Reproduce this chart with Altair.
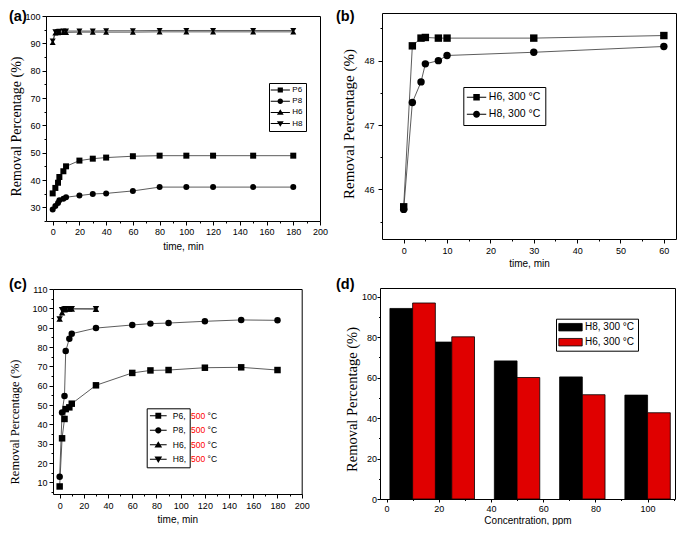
import json
import altair as alt
import pandas as pd

# ---------------- data ----------------
panel_labels = ["(a)", "(b)", "(c)", "(d)"]

a_names = ["P6", "P8", "H6", "H8"]
a_time = [0, 2, 4, 5, 8, 10, 20, 30, 40, 60, 80, 100, 120, 150, 180]
a_p6 = [35.1, 37.1, 39.0, 41.1, 43.2, 45.0, 47.1, 47.8, 48.2, 48.7, 48.9, 48.9, 48.9, 48.9, 48.9]
a_p8 = [29.2, 30.5, 31.6, 32.6, 33.1, 33.7, 34.3, 34.9, 35.1, 36.0, 37.4, 37.4, 37.4, 37.4, 37.4]
a_h6 = [90.3, 93.8, 93.9, 94.0, 94.0, 94.0, 94.1, 94.1, 94.1, 94.1, 94.2, 94.2, 94.2, 94.2, 94.2]
a_h8 = [90.8, 94.2, 94.3, 94.4, 94.5, 94.5, 94.5, 94.5, 94.6, 94.6, 94.7, 94.7, 94.7, 94.7, 94.7]

b_names = ["H6, 300 °C", "H8, 300 °C"]
b_time = [0, 2, 4, 5, 8, 10, 30, 60]
b_h6 = [45.73, 48.23, 48.35, 48.36, 48.35, 48.35, 48.35, 48.39]
b_h8 = [45.69, 47.35, 47.67, 47.95, 48.00, 48.08, 48.13, 48.22]

c_names = ["P6, 500 °C", "P8, 500 °C", "H6, 500 °C", "H8, 500 °C"]
c_time_p = [0, 2, 4, 5, 8, 10, 30, 60, 75, 90, 120, 150, 180]
c_p6 = [7.9, 32.8, 42.8, 47.9, 48.8, 50.7, 60.2, 66.6, 67.9, 68.1, 69.3, 69.5, 68.1]
c_p8 = [12.9, 46.2, 54.7, 77.9, 84.3, 86.9, 89.8, 91.4, 92.1, 92.4, 93.3, 94.0, 93.8]
c_time_h = [0, 2, 4, 5, 8, 10, 30]
c_h6 = [94.5, 97.8, 99.3, 99.6, 99.7, 99.7, 99.6]
c_h8 = [94.5, 99.2, 99.6, 99.7, 99.8, 99.8, 99.8]

d_groups = ["H8, 300 °C", "H6, 300 °C"]
d_conc = [10, 25, 50, 75, 100]
d_h8 = [94.1, 77.5, 68.2, 60.3, 51.3]
d_h6 = [96.8, 80.1, 60.0, 51.5, 42.6]

# tick values
a_xmajor, a_xminor = list(range(0, 201, 20)), list(range(0, 201, 10))
a_ymajor, a_yminor = list(range(30, 101, 10)), list(range(25, 101, 5))
b_xmajor, b_xminor = list(range(0, 61, 10)), list(range(0, 61, 5))
b_ymajor, b_yminor = [46, 47, 48], [45.5, 46, 46.5, 47, 47.5, 48, 48.5]
c_xmajor, c_xminor = list(range(0, 201, 20)), list(range(0, 201, 10))
c_ymajor, c_yminor = list(range(10, 111, 10)), list(range(5, 111, 5))
d_xmajor, d_xminor = list(range(0, 101, 20)), list(range(0, 111, 10))
d_ymajor, d_yminor = list(range(0, 101, 20)), list(range(0, 101, 10))

# ---------------- canvas & styles ----------------
W, H = 669, 517          # one drawing canvas; page coordinates = canvas + 8
M = 8
SANS = "Liberation Sans"
SERIF = "Liberation Serif"
LINE_COLOR = "#4a4a4a"
RED = "#e00000"
RED_TEXT = "#ff0000"

# plot rectangles in page pixels: left, right, top, bottom
RECT_A = (46, 320, 16, 221)
RECT_B = (382, 676, 13, 239)
RECT_C = (53, 301.7, 289, 494)
RECT_D = (380, 675, 288, 499)

MARKER_PATHS = {
    "square": "M-0.65,-0.65H0.65V0.65H-0.65Z",
    "circle": "M-0.7,0A0.7,0.7,0,1,1,0.7,0A0.7,0.7,0,1,1,-0.7,0Z",
    "triangle-up": "M0,-0.8L0.85,0.6H-0.85Z",
    "triangle-down": "M0,0.8L-0.85,-0.6H0.85Z",
}


def legend_paths(shapes, half, thick):
    bar = f"M{-half},{-thick}H{half}V{thick}H{-half}Z"
    return [bar + MARKER_PATHS[s] for s in shapes]


def frame(pairs):
    rows = []
    for name, times, vals in pairs:
        for t, v in zip(times, vals):
            rows.append({"time": t, "value": v, "series": name})
    return pd.DataFrame(rows)


def geom(rect):
    l, r, t, b = [v - M for v in rect]
    return dict(l=l, r=r, t=t, b=b,
                off_bottom=b - H, off_left=-l, off_top=-t, off_right=r - W)


def scales(rect, xdom, ydom):
    g = geom(rect)
    xs = alt.Scale(domain=xdom, range=[g["l"], g["r"]], nice=False, zero=False)
    ys = alt.Scale(domain=ydom, range=[g["b"], g["t"]], nice=False, zero=False)
    return xs, ys


def major_axis(values, orient, offset, title, title_font, title_size, tick=4, label_pad=2,
               title_pad=4, title_x=None, title_y=None):
    kw = dict(values=values, orient=orient, offset=offset, title=title, format="d",
              tickSize=tick, tickColor="black", tickWidth=1, domainColor="black",
              domainWidth=1, labelPadding=label_pad, labelFont=SANS, labelFontSize=9,
              labelColor="black", labelOverlap=False, labelFlush=False,
              titlePadding=title_pad, titleFont=title_font, titleFontSize=title_size,
              titleFontWeight="normal", titleColor="black", grid=False)
    if title_x is not None:
        kw["titleX"] = title_x
    if title_y is not None:
        kw["titleY"] = title_y
    return alt.Axis(**kw)


def minor_axis(values, orient, offset, tick=2):
    return alt.Axis(values=values, orient=orient, offset=offset, title=None, labels=False,
                    domain=False, tickSize=tick, tickColor="black", tickWidth=1, grid=False)


def edge_axis(orient, offset):
    return alt.Axis(orient=orient, offset=offset, title=None, labels=False, ticks=False,
                    domain=True, domainColor="black", domainWidth=1, grid=False)


def edges_layer(df, xf, yf, xs, ys, rect):
    g = geom(rect)
    return alt.Chart(df).transform_filter("false").mark_point().encode(
        x=alt.X(xf, scale=xs, axis=edge_axis("top", g["off_top"])),
        y=alt.Y(yf, scale=ys, axis=edge_axis("right", g["off_right"])),
    )


def label_layer(text, page_x, page_y, size=14.5):
    return alt.Chart(pd.DataFrame({"label": [text]})).mark_text(
        align="left", baseline="top", font=SANS, fontSize=size, fontWeight="bold", color="black"
    ).encode(text="label:N", x=alt.value(page_x - M), y=alt.value(page_y - M))


def line_layers(df, names, shapes, size, xs, ys, xmaj, xmin, ymaj, ymin, rect):
    lines = alt.Chart(df).mark_line(color=LINE_COLOR, strokeWidth=0.9).encode(
        x=alt.X("time:Q", scale=xs, axis=xmin),
        y=alt.Y("value:Q", scale=ys, axis=ymin),
        detail="series:N",
    )
    points = alt.Chart(df).mark_point(filled=True, color="black", opacity=1, size=size).encode(
        x=alt.X("time:Q", scale=xs, axis=xmaj),
        y=alt.Y("value:Q", scale=ys, axis=ymaj),
        shape=alt.Shape("series:N", scale=alt.Scale(domain=names, range=shapes), legend=None),
    )
    return [lines, points, edges_layer(df, "time:Q", "value:Q", xs, ys, rect)]


def shape_legend_layer(df, names, paths, legend, prefix=None):
    base = alt.Chart(df).transform_filter("false")
    field = "series"
    domain = names
    if prefix is not None:
        base = base.transform_calculate(tagged=f"'{prefix} ' + datum.series")
        field = "tagged"
        domain = [f"{prefix} {n}" for n in names]
    return base.mark_point(filled=True, fill="black", opacity=1).encode(
        shape=alt.Shape(f"{field}:N", scale=alt.Scale(domain=domain, range=paths),
                        legend=legend),
    )


def legend_at(page_x, page_y, **kw):
    opts = dict(orient="none", legendX=page_x - M, legendY=page_y - M, title=None,
                labelFont=SANS, labelColor="black")
    opts.update(kw)
    return alt.Legend(**opts)


layers = []

# ---------------- panel (a) ----------------
gA = geom(RECT_A)
dfA = frame([(n, a_time, v) for n, v in zip(a_names, [a_p6, a_p8, a_h6, a_h8])])
xsA, ysA = scales(RECT_A, [-5, 200], [25, 100])
shapesA = ["square", "circle", "triangle-up", "triangle-down"]
layers += line_layers(
    dfA, a_names, shapesA, 36, xsA, ysA,
    major_axis(a_xmajor, "bottom", gA["off_bottom"], "time, min", SANS, 10, label_pad=2,
               title_pad=5),
    minor_axis(a_xminor, "bottom", gA["off_bottom"]),
    major_axis(a_ymajor, "left", gA["off_left"], "Removal Percentage (%)", SERIF, 14,
               label_pad=2, title_x=-23, title_y=126 - M),
    minor_axis(a_yminor, "left", gA["off_left"]),
    RECT_A,
)
layers.append(shape_legend_layer(
    dfA, a_names, legend_paths(shapesA, 2.4, 0.12),
    legend_at(269, 83, padding=3, symbolSize=64, symbolOffset=4.3, labelOffset=8,
              rowPadding=3.2, labelFontSize=8, labelExpr="datum.label + '  '",
              strokeColor="black", symbolStrokeWidth=0),
))
layers.append(label_layer(panel_labels[0], 9, 10))

# ---------------- panel (b) ----------------
gB = geom(RECT_B)
dfB = frame([(n, b_time, v) for n, v in zip(b_names, [b_h6, b_h8])])
xsB, ysB = scales(RECT_B, [-5, 62.8], [45.23, 48.74])
shapesB = ["square", "circle"]
layers += line_layers(
    dfB, b_names, shapesB, 55, xsB, ysB,
    major_axis(b_xmajor, "bottom", gB["off_bottom"], "time, min", SANS, 10, label_pad=3,
               title_pad=3),
    minor_axis(b_xminor, "bottom", gB["off_bottom"]),
    major_axis(b_ymajor, "left", gB["off_left"], "Removal Percentage (%)", SERIF, 15,
               label_pad=4, title_x=-26, title_y=123.5 - M),
    minor_axis(b_yminor, "left", gB["off_left"]),
    RECT_B,
)
layers.append(shape_legend_layer(
    dfB, b_names, legend_paths(shapesB, 1.94, 0.1),
    legend_at(463.3, 87, padding=5, symbolSize=100, symbolOffset=3, labelOffset=7,
              rowPadding=6, labelFontSize=10.5, strokeColor="black", symbolStrokeWidth=0),
))
layers.append(label_layer(panel_labels[1], 336, 10))

# ---------------- panel (c) ----------------
gC = geom(RECT_C)
dfC = frame([(c_names[0], c_time_p, c_p6), (c_names[1], c_time_p, c_p8),
             (c_names[2], c_time_h, c_h6), (c_names[3], c_time_h, c_h8)])
xsC, ysC = scales(RECT_C, [-5.5, 200], [4, 110])
shapesC = ["square", "circle", "triangle-up", "triangle-down"]
layers += line_layers(
    dfC, c_names, shapesC, 42, xsC, ysC,
    major_axis(c_xmajor, "bottom", gC["off_bottom"], "time, min", SANS, 10, label_pad=3,
               title_pad=4),
    minor_axis(c_xminor, "bottom", gC["off_bottom"]),
    major_axis(c_ymajor, "left", gC["off_left"], "Removal Percentage (%)", SERIF, 12.5,
               label_pad=2, title_x=-31.5, title_y=421.5 - M),
    minor_axis(c_yminor, "left", gC["off_left"]),
    RECT_C,
)
pathsC = legend_paths(shapesC, 1.86, 0.11)
c_leg_common = dict(padding=3, symbolSize=81, symbolOffset=4.1, rowPadding=5.5,
                    labelFontSize=8.5, symbolStrokeWidth=0)
c_pad = " " * 12
# one legend frame holding symbols and the name, then the red temperature, then the unit
layers.append(shape_legend_layer(
    dfC, c_names, pathsC,
    legend_at(146.7, 408.3, labelOffset=10,
              labelExpr=f"split(datum.label, ' ')[0] + '{c_pad}'",
              strokeColor="black", **c_leg_common),
))
layers.append(shape_legend_layer(
    dfC, c_names, pathsC,
    legend_at(146.7, 408.3, labelOffset=28.3, symbolOpacity=0, labelColor=RED_TEXT,
              labelExpr="split(datum.label, ' ')[2]", strokeColor="transparent",
              **c_leg_common),
    prefix="#2",
))
layers.append(shape_legend_layer(
    dfC, c_names, pathsC,
    legend_at(146.7, 408.3, labelOffset=44.8, symbolOpacity=0,
              labelExpr="split(datum.label, ' ')[3]", strokeColor="transparent",
              **c_leg_common),
    prefix="#3",
))
layers.append(label_layer(panel_labels[2], 9, 278))

# ---------------- panel (d) ----------------
gD = geom(RECT_D)
dfD = pd.DataFrame([{"conc": c, "value": v, "group": g}
                    for g, vals in zip(d_groups, [d_h8, d_h6]) for c, v in zip(d_conc, vals)])
BAR_W = 8.7
xsD, ysD = scales(RECT_D, [-2.5, 110.5], [0, 104.2])
layers.append(
    alt.Chart(dfD).transform_calculate(
        k=f"indexof({json.dumps(d_groups, ensure_ascii=False)}, datum.group)"
    ).transform_calculate(
        x0=f"datum.conc + (datum.k - 1) * {BAR_W}",
        x1=f"datum.conc + datum.k * {BAR_W}",
    ).mark_bar(stroke="black", strokeWidth=0.8).encode(
        x=alt.X("x0:Q", scale=xsD,
                axis=major_axis(d_xmajor, "bottom", gD["off_bottom"], "Concentration, ppm",
                                SANS, 10, tick=3, label_pad=2, title_pad=2)),
        x2="x1:Q",
        y=alt.Y("value:Q", scale=ysD,
                axis=major_axis(d_ymajor, "left", gD["off_left"], "Removal Percentage (%)",
                                SERIF, 14.5, tick=3, label_pad=0.5, title_x=-21,
                                title_y=399 - M)),
        y2=alt.datum(0),
        color=alt.Color(
            "group:N", scale=alt.Scale(domain=d_groups, range=["black", RED]),
            legend=legend_at(556, 318.7, padding=3,
                             symbolType="M-2.34,-0.75H2.34V0.75H-2.34Z", symbolSize=100,
                             symbolOffset=6, labelOffset=9, rowPadding=4, labelFontSize=10,
                             strokeColor="black", symbolStrokeColor="black",
                             symbolStrokeWidth=0.8),
        ),
    )
)
layers.append(
    alt.Chart(dfD).transform_filter("false").mark_point().encode(
        x=alt.X("conc:Q", scale=xsD, axis=minor_axis(d_xminor, "bottom", gD["off_bottom"], 1.5)),
        y=alt.Y("value:Q", scale=ysD, axis=minor_axis(d_yminor, "left", gD["off_left"], 1.5)),
    )
)
layers.append(edges_layer(dfD, "conc:Q", "value:Q", xsD, ysD, RECT_D))
layers.append(label_layer(panel_labels[3], 336, 278))

# ---------------- assemble ----------------
chart = alt.layer(*layers).resolve_scale(
    x="independent", y="independent", shape="independent", color="independent",
).resolve_axis(x="independent", y="independent").resolve_legend(
    shape="independent", color="independent"
).properties(
    width=W, height=H, padding=0, autosize=alt.AutoSizeParams(type="none")
).configure_view(stroke="transparent")

chart.save("out.html", embed_options={"renderer": "svg", "actions": False})
